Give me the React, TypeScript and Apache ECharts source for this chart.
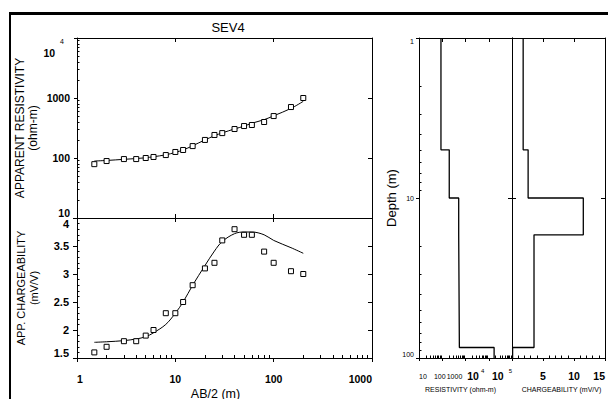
import React, { useEffect, useRef } from 'react';
import * as echarts from 'echarts';

// ---------- data ----------
const abHalf = [1.5, 2, 3, 4, 5, 6, 8, 10, 12, 15, 20, 25, 30, 40, 50, 60, 80, 100, 150, 200];
const rhoObserved = [79, 89, 96, 96, 100, 104, 112, 126, 136, 158, 200, 242, 260, 304, 341, 355, 398, 500, 707, 1000];
const rhoModel = [89, 91, 95, 98, 101, 105, 113, 124, 136, 160, 200, 235, 262, 305, 340, 380, 435, 505, 670, 880];
const chgObserved = [1.6, 1.7, 1.8, 1.8, 1.9, 2.0, 2.3, 2.3, 2.5, 2.8, 3.1, 3.2, 3.6, 3.8, 3.7, 3.7, 3.4, 3.2, 3.05, 3.0];
const chgModel = [1.78, 1.79, 1.81, 1.84, 1.88, 1.95, 2.1, 2.3, 2.5, 2.8, 3.15, 3.41, 3.58, 3.72, 3.75, 3.75, 3.7, 3.6, 3.47, 3.37];

const layerTop = [1, 5, 10, 17, 86];
const depthBottom = 100;
const layerResistivity = [88, 200, 510, 545, 17000];
const layerChargeability = [1.8, 2.6, 11.5, 3.55, 0.1];

// ---------- ticks ----------
const abMajor = [1, 10, 100, 1000];
const abMinor = [2, 3, 4, 5, 6, 7, 8, 9, 20, 30, 40, 50, 60, 70, 80, 90, 200, 300, 400, 500, 600, 700, 800, 900];
const abInner = [10, 100];
const rhoMajor = [10, 100, 1000, 10000];
const rhoMinor = [20, 30, 40, 50, 60, 70, 80, 90, 200, 300, 400, 500, 600, 700, 800, 900, 2000, 3000, 4000, 5000, 6000, 7000, 8000, 9000];
const rhoRight = [100, 1000];
const chgMajor = [1.5, 2, 2.5, 3, 3.5, 4];
const chgMinor = [1.6, 1.7, 1.8, 1.9, 2.1, 2.2, 2.3, 2.4, 2.6, 2.7, 2.8, 2.9, 3.1, 3.2, 3.3, 3.4, 3.6, 3.7, 3.8, 3.9];
const chgRight = [2, 2.5, 3, 3.5];
const depthMajor = [1, 10, 100];
const depthMinor = [2, 3, 4, 5, 6, 7, 8, 9, 20, 30, 40, 50, 60, 70, 80, 90];
const depthInner = [10];
const resMajor = [10, 100, 1000, 10000, 100000];
const resMinor = [20, 30, 40, 50, 60, 70, 80, 90, 200, 300, 400, 500, 600, 700, 800, 900, 2000, 3000, 4000, 5000, 6000, 7000, 8000, 9000, 20000, 30000, 40000, 50000, 60000, 70000, 80000, 90000];
const resTop = [100, 1000, 10000];
const mMajor = [0, 5, 10, 15];
const mLabels = [5, 10, 15];
const mMinor = [1, 2, 3, 4, 6, 7, 8, 9, 11, 12, 13, 14];
const mTop = [5, 10];

const FONT = '"Liberation Sans", Arial, Helvetica, sans-serif';
const INK = '#000';

type Side = 'top' | 'bottom' | 'left' | 'right';
interface AxOpt {
  grid: number;
  type: 'log' | 'value';
  min: number;
  max: number;
  pos: Side;
  line?: boolean;
  ticks?: number[];
  tickLen?: number;
  inside?: boolean;
  inverse?: boolean;
  label?: any;
  extra?: any;
}
function ax(o: AxOpt) {
  const t = o.ticks || [];
  return {
    gridIndex: o.grid,
    type: o.type,
    logBase: 10,
    min: o.min,
    max: o.max,
    position: o.pos,
    inverse: !!o.inverse,
    axisLine: { show: !!o.line, onZero: false, lineStyle: { color: INK, width: 1 } },
    axisTick: {
      show: t.length > 0,
      customValues: t.length ? t : undefined,
      inside: !!o.inside,
      length: o.tickLen || 4,
      lineStyle: { color: INK, width: 1 },
    },
    axisLabel: o.label ? o.label : { show: false },
    splitLine: { show: false },
    minorTick: { show: false },
    minorSplitLine: { show: false },
    ...(o.extra || {}),
  };
}

function stepPoints(values: number[]) {
  const pts: number[][] = [];
  values.forEach((v, i) => {
    const top = layerTop[i];
    const bottom = i + 1 < layerTop.length ? layerTop[i + 1] : depthBottom;
    pts.push([v, top], [v, bottom]);
  });
  return pts;
}

function resLabel(v: number) {
  if (v >= 100000) return '{b|10}{s|5}';
  if (v >= 10000) return '{b4|10}{s4|4}';
  if (v >= 1000) return '{n3|' + v + '}';
  if (v >= 100) return '{n2|' + v + '}';
  return '{n|' + v + '}';
}

function buildOption() {
  const boldLabel = { color: INK, fontFamily: FONT, fontWeight: 'bold', fontSize: 10.5 };

  const xAxis = [
    // 0 grid0 bottom
    ax({ grid: 0, type: 'log', min: 1, max: 1000, pos: 'bottom', line: true, ticks: abInner, inside: true, tickLen: 4 }),
    // 1 grid0 top
    ax({ grid: 0, type: 'log', min: 1, max: 1000, pos: 'top', line: true, ticks: abInner, inside: true, tickLen: 4 }),
    // 2 grid1 bottom major with labels
    ax({
      grid: 1, type: 'log', min: 1, max: 1000, pos: 'bottom', line: true, ticks: abMajor, inside: false, tickLen: 4,
      label: { ...boldLabel, customValues: abMajor, margin: 15, alignMinLabel: 'left', alignMaxLabel: 'right', formatter: (v: number) => String(v) },
      extra: {
        name: 'AB/2 (m)', nameLocation: 'middle', nameGap: 29,
        nameTextStyle: { fontFamily: FONT, fontSize: 12.5, color: INK, padding: [0, 18, 0, 0] },
      },
    }),
    // 3 grid1 bottom minor
    ax({ grid: 1, type: 'log', min: 1, max: 1000, pos: 'bottom', ticks: abMinor, inside: true, tickLen: 3 }),
    // 4 grid1 top
    ax({ grid: 1, type: 'log', min: 1, max: 1000, pos: 'top', line: true, ticks: abInner, inside: true, tickLen: 4 }),
    // 5 grid2 bottom major
    ax({
      grid: 2, type: 'log', min: 10, max: 100000, pos: 'bottom', line: true, ticks: resMajor, inside: false, tickLen: 3,
      label: {
        customValues: resMajor, margin: 10, alignMinLabel: 'left', alignMaxLabel: 'right', color: INK, fontFamily: FONT,
        formatter: resLabel,
        rich: {
          n: { fontSize: 7, fontFamily: FONT, color: INK, lineHeight: 16 },
          n2: { fontSize: 7, fontFamily: FONT, color: INK, lineHeight: 16, padding: [0, 5, 0, 0] },
          n3: { fontSize: 7, fontFamily: FONT, color: INK, lineHeight: 16, padding: [0, 22, 0, 0] },
          b: { fontSize: 10.5, fontFamily: FONT, fontWeight: 'bold', color: INK, lineHeight: 16 },
          s: { fontSize: 6, fontFamily: FONT, color: INK, verticalAlign: 'top', padding: [0, 0, 0, 5] },
          b4: { fontSize: 10.5, fontFamily: FONT, fontWeight: 'bold', color: INK, lineHeight: 16 },
          s4: { fontSize: 6, fontFamily: FONT, color: INK, verticalAlign: 'top', padding: [0, 26, 0, 2] },
        },
      },
      extra: {
        name: 'RESISTIVITY (ohm-m)', nameLocation: 'middle', nameGap: 27,
        nameTextStyle: { fontFamily: FONT, fontSize: 7, color: INK, padding: [0, 10, 0, 0] },
      },
    }),
    // 6 grid2 bottom minor
    ax({ grid: 2, type: 'log', min: 10, max: 100000, pos: 'bottom', ticks: resMinor, inside: true, tickLen: 2.5 }),
    // 7 grid2 top
    ax({ grid: 2, type: 'log', min: 10, max: 100000, pos: 'top', line: true, ticks: resTop, inside: true, tickLen: 4 }),
    // 8 grid3 bottom major
    ax({
      grid: 3, type: 'value', min: 0, max: 15, pos: 'bottom', line: true, ticks: mMajor, inside: false, tickLen: 3,
      label: { ...boldLabel, customValues: mLabels, margin: 12, alignMaxLabel: 'right' },
      extra: {
        name: 'CHARGEABILITY (mV/V)', nameLocation: 'middle', nameGap: 27,
        nameTextStyle: { fontFamily: FONT, fontSize: 7, color: INK, padding: [0, 0, 0, 6] },
      },
    }),
    // 9 grid3 bottom minor
    ax({ grid: 3, type: 'value', min: 0, max: 15, pos: 'bottom', ticks: mMinor, inside: true, tickLen: 2.5 }),
    // 10 grid3 top
    ax({ grid: 3, type: 'value', min: 0, max: 15, pos: 'top', line: true, ticks: mTop, inside: true, tickLen: 4 }),
  ];

  const yAxis = [
    // 0 grid0 left major
    ax({
      grid: 0, type: 'log', min: 10, max: 10000, pos: 'left', line: true, ticks: rhoMajor, inside: false, tickLen: 3,
      label: {
        customValues: rhoMajor, margin: 7, verticalAlignMinLabel: 'bottom', verticalAlignMaxLabel: 'top',
        formatter: (v: number) => (v >= 10000 ? '{b2|10}{s|' + Math.round(Math.log10(v)) + '}' : '{b|' + v + '}'),
        rich: {
          b: { ...boldLabel },
          b2: { ...boldLabel, lineHeight: 20, verticalAlign: 'bottom' },
          s: { fontSize: 7, fontFamily: FONT, color: INK, verticalAlign: 'top', padding: [0, 6, 0, 5] },
        },
      },
      extra: {
        name: 'APPARENT RESISTIVITY\n(ohm-m)', nameLocation: 'middle', nameRotate: 90, nameGap: 37,
        nameTextStyle: { fontFamily: FONT, fontSize: 12, lineHeight: 13, color: INK, align: 'center' },
      },
    }),
    // 1 grid0 left minor
    ax({ grid: 0, type: 'log', min: 10, max: 10000, pos: 'left', ticks: rhoMinor, inside: true, tickLen: 2.5 }),
    // 2 grid0 right
    ax({ grid: 0, type: 'log', min: 10, max: 10000, pos: 'right', line: true, ticks: rhoRight, inside: true, tickLen: 4 }),
    // 3 grid1 left major
    ax({
      grid: 1, type: 'value', min: 1.5, max: 4, pos: 'left', line: true, ticks: chgMajor, inside: false, tickLen: 4,
      label: {
        ...boldLabel, fontSize: 11, customValues: chgMajor, margin: 8, verticalAlignMaxLabel: 'top', verticalAlignMinLabel: 'bottom',
        formatter: (v: number) => String(v),
      },
      extra: {
        name: 'APP. CHARGEABILITY\n(mV/V)', nameLocation: 'middle', nameRotate: 90, nameGap: 37,
        nameTextStyle: { fontFamily: FONT, fontSize: 11, lineHeight: 13, color: INK, align: 'center' },
      },
    }),
    // 4 grid1 left minor
    ax({ grid: 1, type: 'value', min: 1.5, max: 4, pos: 'left', ticks: chgMinor, inside: true, tickLen: 2.5 }),
    // 5 grid1 right
    ax({ grid: 1, type: 'value', min: 1.5, max: 4, pos: 'right', line: true, ticks: chgRight, inside: true, tickLen: 4 }),
    // 6 grid2 left major (depth)
    ax({
      grid: 2, type: 'log', min: 1, max: 100, pos: 'left', line: true, inverse: true, ticks: depthMajor, inside: false, tickLen: 3,
      label: {
        customValues: depthMajor, margin: 5, color: INK, fontFamily: FONT, fontSize: 7,
        verticalAlignMinLabel: 'top', verticalAlignMaxLabel: 'bottom',
      },
      extra: {
        name: 'Depth (m)', nameLocation: 'middle', nameRotate: 90, nameGap: 19,
        nameTextStyle: { fontFamily: FONT, fontSize: 13, color: INK },
      },
    }),
    // 7 grid2 left minor
    ax({ grid: 2, type: 'log', min: 1, max: 100, pos: 'left', inverse: true, ticks: depthMinor, inside: true, tickLen: 2.5 }),
    // 8 grid2 right
    ax({ grid: 2, type: 'log', min: 1, max: 100, pos: 'right', line: true, inverse: true, ticks: depthInner, inside: true, tickLen: 4 }),
    // 9 grid3 left
    ax({ grid: 3, type: 'log', min: 1, max: 100, pos: 'left', line: true, inverse: true, ticks: depthInner, inside: true, tickLen: 4 }),
    // 10 grid3 right
    ax({ grid: 3, type: 'log', min: 1, max: 100, pos: 'right', line: true, inverse: true, ticks: depthInner, inside: true, tickLen: 4 }),
  ];

  const squares = {
    type: 'scatter',
    symbol: 'rect',
    symbolSize: 5,
    itemStyle: { color: '#fff', borderColor: INK, borderWidth: 1, opacity: 1 },
    z: 3,
  };
  const fitLine = {
    type: 'line',
    smooth: 0.35,
    showSymbol: false,
    symbol: 'none',
    lineStyle: { color: INK, width: 1 },
    z: 2,
  };
  const stepLine = {
    type: 'line',
    showSymbol: false,
    symbol: 'none',
    lineStyle: { color: INK, width: 1.3 },
    z: 2,
  };

  return {
    animation: false,
    backgroundColor: '#fff',
    title: {
      text: 'SEV4',
      left: 223,
      top: 16,
      textAlign: 'center',
      textStyle: { fontFamily: FONT, fontSize: 13, fontWeight: 'normal', color: INK },
    },
    grid: [
      { left: 77, top: 38, width: 295, height: 180, outerBoundsMode: 'none', containLabel: false },
      { left: 77, top: 218, width: 295, height: 140, outerBoundsMode: 'none', containLabel: false },
      { left: 419, top: 38, width: 93, height: 320, outerBoundsMode: 'none', containLabel: false },
      { left: 512, top: 38, width: 93, height: 320, outerBoundsMode: 'none', containLabel: false },
    ],
    xAxis,
    yAxis,
    graphic: [
      { type: 'rect', shape: { x: 9, y: 12, width: 599, height: 3 }, style: { fill: INK }, silent: true },
      { type: 'rect', shape: { x: 9, y: 12, width: 2, height: 387 }, style: { fill: INK }, silent: true },
    ],
    series: [
      { ...fitLine, name: 'rho-fit', xAxisIndex: 0, yAxisIndex: 0, data: abHalf.map((x, i) => [x, rhoModel[i]]) },
      { ...squares, name: 'rho-obs', xAxisIndex: 0, yAxisIndex: 0, data: abHalf.map((x, i) => [x, rhoObserved[i]]) },
      { ...fitLine, name: 'chg-fit', xAxisIndex: 2, yAxisIndex: 3, data: abHalf.map((x, i) => [x, chgModel[i]]) },
      { ...squares, name: 'chg-obs', xAxisIndex: 2, yAxisIndex: 3, data: abHalf.map((x, i) => [x, chgObserved[i]]) },
      { ...stepLine, name: 'res-layers', xAxisIndex: 5, yAxisIndex: 6, data: stepPoints(layerResistivity) },
      { ...stepLine, name: 'chg-layers', xAxisIndex: 8, yAxisIndex: 9, data: stepPoints(layerChargeability) },
    ],
  };
}

export default function App() {
  const ref = useRef<HTMLDivElement>(null);
  useEffect(() => {
    document.body.style.margin = '0';
    const chart = echarts.init(ref.current!, null, { renderer: 'svg' });
    chart.setOption(buildOption() as any);
    return () => chart.dispose();
  }, []);
  return <div ref={ref} style={{ width: 608, height: 399 }} />;
}
